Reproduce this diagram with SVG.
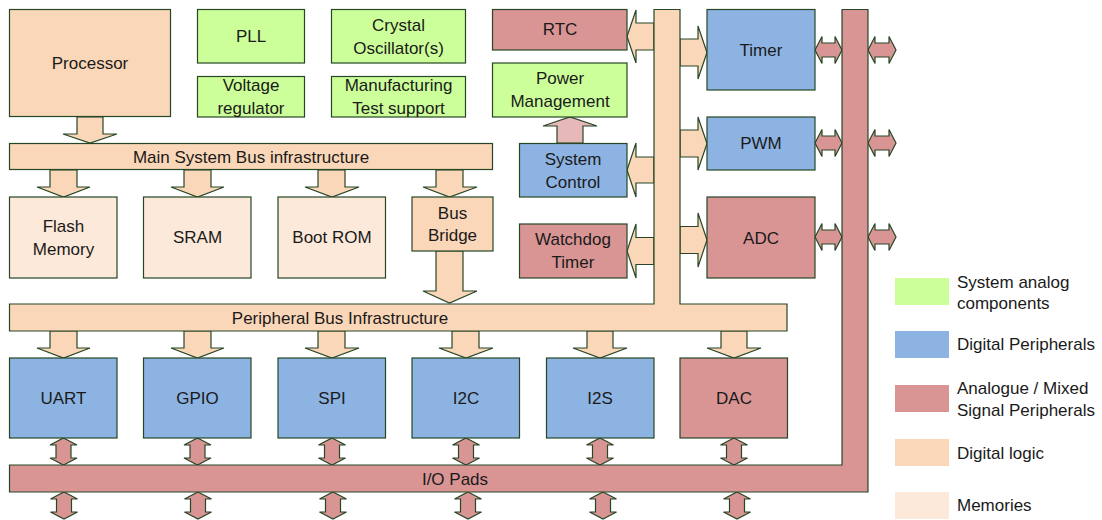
<svg xmlns="http://www.w3.org/2000/svg" width="1102" height="520" viewBox="0 0 1102 520">
<style>
text{font-family:"Liberation Sans",Arial,sans-serif;font-size:17px;fill:#1a1a1a;text-anchor:middle}
.lg{text-anchor:start}
.b{stroke:#264626;stroke-width:1.2}
.dl{fill:#fad7b8}
.mem{fill:#fde9d9}
.an{fill:#ccff99}
.dp{fill:#8db3e2}
.ms{fill:#d99594}
.pm{fill:#e6b9b8}
</style>
<rect width="1102" height="520" fill="#ffffff"/>
<g id="connectors">
<polygon class="b dl" points="77,117 103,117 103,134 117,134 90,143 63,134 77,134"/>
<polygon class="b dl" points="50,170 77,170 77,187 90,187 63.5,197 37,187 50,187"/>
<polygon class="b dl" points="184,170 211,170 211,187 224,187 197.5,197 171,187 184,187"/>
<polygon class="b dl" points="318,170 345,170 345,187 359,187 332,197 305,187 318,187"/>
<polygon class="b dl" points="436,170 463,170 463,187 477,187 449.5,197 423,187 436,187"/>
<polygon class="b dl" points="436,251 463,251 463,291 477,291 449.5,303 423,291 436,291"/>
<polygon class="b dl" points="50,331 77,331 77,348 90,348 63.5,358 37,348 50,348"/>
<polygon class="b dl" points="184,331 211,331 211,348 224,348 197.5,358 171,348 184,348"/>
<polygon class="b dl" points="318,331 345,331 345,348 359,348 332,358 305,348 318,348"/>
<polygon class="b dl" points="452,331 479,331 479,348 493,348 466,358 439,348 452,348"/>
<polygon class="b dl" points="587,331 613,331 613,348 627,348 600,358 573,348 587,348"/>
<polygon class="b dl" points="721,331 747,331 747,348 761,348 734,358 707,348 721,348"/>
<polygon class="b pm" points="557,143 583,143 583,126 597,126 570,117 543,126 557,126"/>
<polygon class="b dl" points="654,23 636,23 636,10 627,36.5 636,63 636,50 654,50"/>
<polygon class="b dl" points="654,157 636,157 636,143 627,170 636,197 636,183 654,183"/>
<polygon class="b dl" points="654,237.5 636,237.5 636,224 627,251 636,278 636,264.5 654,264.5"/>
<polygon class="b dl" points="680,39 698,39 698,26 707,52.5 698,79 698,66 680,66"/>
<polygon class="b dl" points="680,130 698,130 698,117 707,143.5 698,170 698,157 680,157"/>
<polygon class="b dl" points="680,226.5 698,226.5 698,213 707,240 698,267 698,253.5 680,253.5"/>
<polygon class="b ms" points="815,50 822,36.5 822,43 835,43 835,36.5 842,50 835,63.5 835,57 822,57 822,63.5"/>
<polygon class="b ms" points="815,143 822,129.5 822,136 835,136 835,129.5 842,143 835,156.5 835,150 822,150 822,156.5"/>
<polygon class="b ms" points="815,237 822,223.5 822,230 835,230 835,223.5 842,237 835,250.5 835,244 822,244 822,250.5"/>
<polygon class="b ms" points="868,50 875,36.5 875,43 889,43 889,36.5 896,50 889,63.5 889,57 875,57 875,63.5"/>
<polygon class="b ms" points="868,143 875,129.5 875,136 889,136 889,129.5 896,143 889,156.5 889,150 875,150 875,156.5"/>
<polygon class="b ms" points="868,237 875,223.5 875,230 889,230 889,223.5 896,237 889,250.5 889,244 875,244 875,250.5"/>
<polygon class="b ms" points="63.5,438 77,445 71,445 71,458 77,458 63.5,465 50,458 56,458 56,445 50,445"/>
<polygon class="b ms" points="197.5,438 211,445 205,445 205,458 211,458 197.5,465 184,458 190,458 190,445 184,445"/>
<polygon class="b ms" points="332,438 345.5,445 339.5,445 339.5,458 345.5,458 332,465 318.5,458 324.5,458 324.5,445 318.5,445"/>
<polygon class="b ms" points="466,438 479.5,445 473.5,445 473.5,458 479.5,458 466,465 452.5,458 458.5,458 458.5,445 452.5,445"/>
<polygon class="b ms" points="600,438 613.5,445 607.5,445 607.5,458 613.5,458 600,465 586.5,458 592.5,458 592.5,445 586.5,445"/>
<polygon class="b ms" points="734,438 747.5,445 741.5,445 741.5,458 747.5,458 734,465 720.5,458 726.5,458 726.5,445 720.5,445"/>
<polygon class="b ms" points="64,492 77.5,499 71.5,499 71.5,512 77.5,512 64,519 50.5,512 56.5,512 56.5,499 50.5,499"/>
<polygon class="b ms" points="198,492 211.5,499 205.5,499 205.5,512 211.5,512 198,519 184.5,512 190.5,512 190.5,499 184.5,499"/>
<polygon class="b ms" points="333,492 346.5,499 340.5,499 340.5,512 346.5,512 333,519 319.5,512 325.5,512 325.5,499 319.5,499"/>
<polygon class="b ms" points="468,492 481.5,499 475.5,499 475.5,512 481.5,512 468,519 454.5,512 460.5,512 460.5,499 454.5,499"/>
<polygon class="b ms" points="603,492 616.5,499 610.5,499 610.5,512 616.5,512 603,519 589.5,512 595.5,512 595.5,499 589.5,499"/>
<polygon class="b ms" points="737,492 750.5,499 744.5,499 744.5,512 750.5,512 737,519 723.5,512 729.5,512 729.5,499 723.5,499"/>
</g>
<g id="main-bus"><rect class="b dl" x="9.5" y="143.5" width="483" height="26"/><text x="251" y="163">Main System Bus infrastructure</text></g>
<g id="peripheral-bus"><polygon class="b dl" points="9.5,304 654,304 654,9.5 680,9.5 680,304 787,304 787,331 9.5,331"/><text x="340" y="324">Peripheral Bus Infrastructure</text></g>
<g id="io-pads"><polygon class="b ms" points="9.5,465 842,465 842,9.5 868,9.5 868,492 9.5,492"/><text x="455" y="485">I/O Pads</text></g>
<g id="processor"><rect class="b dl" x="9.5" y="9.5" width="161" height="107"/><text x="90" y="69">Processor</text></g>
<g id="pll"><rect class="b an" x="197.5" y="9.5" width="107" height="53.5"/><text x="251" y="42">PLL</text></g>
<g id="crystal"><rect class="b an" x="331.5" y="9.5" width="134" height="53.5"/><text x="398.5" y="31">Crystal</text><text x="398.5" y="54">Oscillator(s)</text></g>
<g id="voltage"><rect class="b an" x="197.5" y="76.5" width="107" height="40.5"/><text x="251" y="91">Voltage</text><text x="251" y="114">regulator</text></g>
<g id="manufacturing"><rect class="b an" x="331.5" y="76.5" width="134" height="40.5"/><text x="398.5" y="91">Manufacturing</text><text x="398.5" y="114">Test support</text></g>
<g id="rtc"><rect class="b ms" x="492.5" y="9.5" width="134.5" height="40.5"/><text x="560" y="35">RTC</text></g>
<g id="power"><rect class="b an" x="492.5" y="63" width="134.5" height="54"/><text x="560" y="84">Power</text><text x="560" y="107">Management</text></g>
<g id="system-control"><rect class="b dp" x="519.5" y="143.5" width="107.5" height="53.5"/><text x="573" y="165">System</text><text x="573" y="188">Control</text></g>
<g id="watchdog"><rect class="b ms" x="519.5" y="224" width="107.5" height="54"/><text x="573" y="245">Watchdog</text><text x="573" y="268">Timer</text></g>
<g id="timer"><rect class="b dp" x="707" y="9.5" width="108" height="80.5"/><text x="761" y="56">Timer</text></g>
<g id="pwm"><rect class="b dp" x="707" y="117" width="108" height="53"/><text x="761" y="149">PWM</text></g>
<g id="adc"><rect class="b ms" x="707" y="197" width="108" height="81"/><text x="761" y="244">ADC</text></g>
<g id="flash"><rect class="b mem" x="9.5" y="197" width="107.5" height="81"/><text x="63.5" y="232">Flash</text><text x="63.5" y="255">Memory</text></g>
<g id="sram"><rect class="b mem" x="143.5" y="197" width="107.5" height="81"/><text x="197.5" y="243">SRAM</text></g>
<g id="bootrom"><rect class="b mem" x="278" y="197" width="107.5" height="81"/><text x="332" y="243">Boot ROM</text></g>
<g id="bus-bridge"><rect class="b dl" x="412" y="197" width="81" height="54"/><text x="452.5" y="219">Bus</text><text x="452.5" y="241">Bridge</text></g>
<g id="uart"><rect class="b dp" x="9.5" y="358" width="107.5" height="80"/><text x="63.5" y="404">UART</text></g>
<g id="gpio"><rect class="b dp" x="143.5" y="358" width="107.5" height="80"/><text x="197.5" y="404">GPIO</text></g>
<g id="spi"><rect class="b dp" x="278" y="358" width="107.5" height="80"/><text x="332" y="404">SPI</text></g>
<g id="i2c"><rect class="b dp" x="412" y="358" width="107.5" height="80"/><text x="466" y="404">I2C</text></g>
<g id="i2s"><rect class="b dp" x="546.5" y="358" width="107.5" height="80"/><text x="600" y="404">I2S</text></g>
<g id="dac"><rect class="b ms" x="680" y="358" width="107.5" height="80"/><text x="734" y="404">DAC</text></g>
<g id="legend">
<rect class="an" x="895" y="278" width="54" height="27"/>
<rect class="dp" x="895" y="331" width="54" height="27"/>
<rect class="ms" x="895" y="385" width="54" height="27"/>
<rect class="dl" x="895" y="439" width="54" height="27"/>
<rect class="mem" x="895" y="492" width="54" height="27"/>
<text class="lg" x="957" y="288">System analog</text>
<text class="lg" x="957" y="309">components</text>
<text class="lg" x="957" y="350">Digital Peripherals</text>
<text class="lg" x="957" y="394">Analogue / Mixed</text>
<text class="lg" x="957" y="416">Signal Peripherals</text>
<text class="lg" x="957" y="459">Digital logic</text>
<text class="lg" x="957" y="511">Memories</text>
</g>
</svg>
